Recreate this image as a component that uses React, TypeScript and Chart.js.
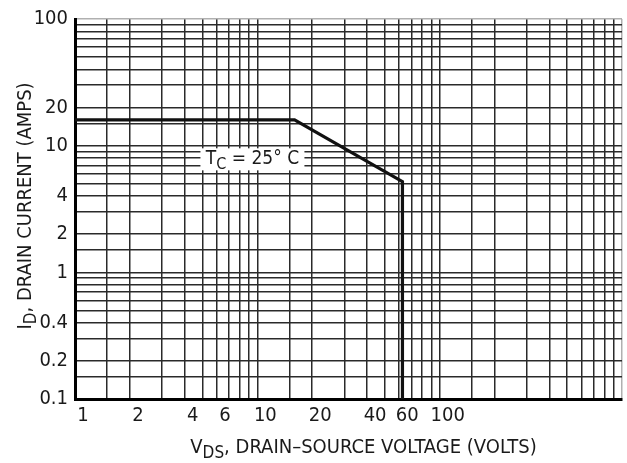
import React, { useEffect, useRef } from "react";
import { Chart, registerables } from "chart.js";

Chart.register(...registerables);

// ---- data ----
const vdsVolts = [1, 16, 62.5, 62.5];
const idAmps = [16, 16, 5.2, 0.1];

const gridMantissas = [1, 1.5, 2, 3, 4, 5, 6, 7, 8, 9];
const xDecades = [1, 10, 100];
const xMin = 1;
const xMax = 1000;
const yDecades = [0.1, 1, 10];
const yMin = 0.1;
const yMax = 100;

const xTickLabels = [1, 2, 4, 6, 10, 20, 40, 60, 100];
const yTickLabels = [0.1, 0.2, 0.4, 1, 2, 4, 10, 20, 100];

const xTitle = { main: "V", sub: "DS", rest: ", DRAIN\u2013SOURCE VOLTAGE (VOLTS)" };
const yTitle = { main: "I", sub: "D", rest: ", DRAIN CURRENT (AMPS)" };
const curveNote = { main: "T", sub: "C", rest: " = 25\u00b0 C", x: 9.4, y: 7.8 };

// ---- styles ----
const FONT = "'Liberation Sans Narrow', 'DejaVu Sans Condensed', 'Liberation Sans', sans-serif";
const TEXT = "#1a1a1a";
const GRID = "#2a2a2a";
const EDGE = "#b0b0b0";

const buildGrid = (decades: number[], max: number) => [
  ...decades.flatMap((d) => gridMantissas.map((m) => +(m * d).toPrecision(6))),
  max,
];
const xGrid = buildGrid(xDecades, xMax);
const yGrid = buildGrid(yDecades, yMax);

const labelFor = (v: number, list: number[]) => {
  const hit = list.find((l) => Math.abs(v - l) / l < 1e-6);
  return hit === undefined ? "" : String(hit);
};

type Parts = { main: string; sub: string; rest: string };

function drawSubText(
  ctx: CanvasRenderingContext2D,
  p: Parts,
  x: number,
  y: number,
  size: number,
  subSize: number,
  subShift: number
) {
  const mainFont = `${size}px ${FONT}`;
  const subFont = `${subSize}px ${FONT}`;
  ctx.font = mainFont;
  const w1 = ctx.measureText(p.main).width;
  const w3 = ctx.measureText(p.rest).width;
  ctx.font = subFont;
  const w2 = ctx.measureText(p.sub).width;
  const total = w1 + w2 + w3;
  let sx = x - total / 2;
  ctx.textAlign = "left";
  ctx.textBaseline = "alphabetic";
  ctx.fillStyle = TEXT;
  ctx.font = mainFont;
  ctx.fillText(p.main, sx, y);
  sx += w1;
  ctx.font = subFont;
  ctx.fillText(p.sub, sx, y + subShift);
  sx += w2;
  ctx.font = mainFont;
  ctx.fillText(p.rest, sx, y);
  return total;
}

const textPlugin = {
  id: "soaText",
  afterDatasetsDraw(chart: any) {
    const ctx: CanvasRenderingContext2D = chart.ctx;
    const { left, right, top, bottom } = chart.chartArea;
    const xs = chart.scales.x;
    const ys = chart.scales.y;
    ctx.save();
    // curve note with white backing box
    const cx = xs.getPixelForValue(curveNote.x);
    const cy = ys.getPixelForValue(curveNote.y);
    ctx.fillStyle = "#ffffff";
    ctx.fillRect(cx - 52, cy - 11, 104, 22);
    drawSubText(ctx, curveNote, cx, cy + 5, 19, 16, 5);
    // x axis title
    drawSubText(ctx, xTitle, (left + right) / 2 + 15, bottom + 53.5, 20, 17, 5);
    // y axis title (rotated)
    ctx.translate(left - 44, (top + bottom) / 2 - 3);
    ctx.rotate(-Math.PI / 2);
    drawSubText(ctx, yTitle, 0, 0, 20, 17, 5);
    ctx.restore();
  },
};

export default function App() {
  const ref = useRef<HTMLCanvasElement>(null);
  useEffect(() => {
    document.body.style.margin = "0";
    const canvas = ref.current!;
    const chart = new Chart(canvas, {
      type: "line",
      data: {
        datasets: [
          {
            data: vdsVolts.map((x, i) => ({ x, y: idAmps[i] })),
            borderColor: "#111111",
            borderWidth: 3.2,
            pointRadius: 0,
            fill: false,
            tension: 0,
            borderJoinStyle: "miter",
            borderCapStyle: "butt",
          } as any,
        ],
      },
      options: {
        animation: false,
        responsive: false,
        devicePixelRatio: window.devicePixelRatio || 1,
        layout: { padding: { top: 16, right: 4, left: 0, bottom: 0 } },
        plugins: {
          legend: { display: false },
          tooltip: { enabled: false },
          title: { display: false },
        },
        scales: {
          x: {
            type: "logarithmic",
            min: xMin,
            max: xMax,
            afterBuildTicks: (s: any) => {
              s.ticks = xGrid.map((v) => ({ value: v }));
            },
            afterFit: (s: any) => {
              s.height = 64;
            },
            ticks: {
              autoSkip: false,
              maxRotation: 0,
              minRotation: 0,
              padding: 5,
              labelOffset: 8,
              color: TEXT,
              font: { family: FONT, size: 20 },
              callback: (v: any) => labelFor(Number(v), xTickLabels),
            },
            grid: {
              color: (c: any) => (c.tick && c.tick.value >= xMax ? EDGE : GRID),
              lineWidth: 1.5,
              drawTicks: false,
            },
            border: { color: "#000000", width: 3 },
          } as any,
          y: {
            type: "logarithmic",
            min: yMin,
            max: yMax,
            afterBuildTicks: (s: any) => {
              s.ticks = yGrid.map((v) => ({ value: v }));
            },
            afterFit: (s: any) => {
              s.width = 75;
            },
            ticks: {
              autoSkip: false,
              padding: 7,
              color: TEXT,
              font: { family: FONT, size: 20 },
              callback: (v: any) => labelFor(Number(v), yTickLabels),
            },
            grid: {
              color: (c: any) => (c.tick && c.tick.value >= yMax ? EDGE : GRID),
              lineWidth: 1.5,
              drawTicks: false,
            },
            border: { color: "#000000", width: 3 },
          } as any,
        },
      },
      plugins: [textPlugin],
    });
    return () => chart.destroy();
  }, []);
  return (
    <div style={{ width: 627, height: 463, background: "#fff" }}>
      <canvas ref={ref} width={627} height={463} style={{ display: "block" }} />
    </div>
  );
}
